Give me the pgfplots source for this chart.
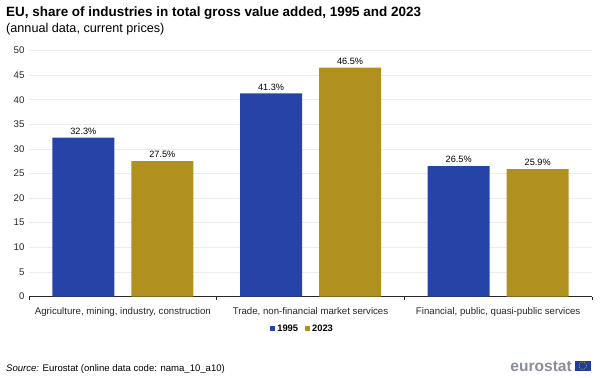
\documentclass[border=0pt]{standalone}
\usepackage{pgfplots}
\pgfplotsset{compat=1.18}
\usepackage{fontspec}
\setmainfont{Liberation Sans}
\definecolor{esblue}{HTML}{2644A7}
\definecolor{esgold}{HTML}{B09120}
\definecolor{esgrid}{HTML}{ECECEC}
\definecolor{esgrey}{HTML}{8A8E99}
\begin{document}
\begin{tikzpicture}[x=1bp,y=1bp]
\path[use as bounding box] (0,0) rectangle (600,377);
\begin{axis}[
  at={(29bp,80.5bp)},anchor=south west,
  scale only axis,width=563bp,height=246bp,
  xmin=0,xmax=3,ymin=0,ymax=50,
  ybar,
  axis x line*=bottom,axis y line*=left,
  y axis line style={draw=none},
  x axis line style={draw=black!85,line width=0.8bp},
  xtick={0.5,1.5,2.5},
  xticklabels={{Agriculture, mining, industry, construction},{Trade, non-financial market services},{Financial, public, quasi-public services}},
  minor xtick={0,1,2,3},
  major x tick style={draw=none},
  minor x tick style={draw=black!85,line width=0.6bp},
  minor tick length=3.5bp,
  ytick={0,5,...,50},
  major y tick style={draw=none},
  ymajorgrids,grid style={esgrid,line width=0.6bp},
  tick label style={font=\fontsize{9.7}{11}\selectfont,text=black!85},
  /pgf/number format/assume math mode=true,
  x tick label style={yshift=-3bp},
  y tick label style={xshift=-1bp},
  nodes near coords={\pgfmathprintnumber[fixed,fixed zerofill,precision=1]{\pgfplotspointmeta}\%},
  every node near coord/.append style={font=\fontsize{9.2}{11}\selectfont,text=black,inner sep=3bp,/pgf/number format/assume math mode=true},
  bar width=62bp,
  legend style={draw=none,fill=none,at={(0.486,-0.13)},anchor=center,legend columns=2,font=\bfseries\fontsize{9.4}{11}\selectfont,inner sep=0pt,/tikz/every even column/.append style={column sep=5bp}},
  legend image code/.code={\fill[#1,draw=none] (0bp,-2.5bp) rectangle (5bp,2.5bp);},
  clip=false,
]
\addplot[fill=esblue,draw=none,bar shift=-39.5bp] coordinates {(0.5,32.3) (1.5,41.3) (2.5,26.5)};
\addplot[fill=esgold,draw=none,bar shift=39.5bp] coordinates {(0.5,27.5) (1.5,46.5) (2.5,25.9)};
\legend{1995,2023}
\end{axis}
\node[anchor=base west,inner sep=0pt,font=\bfseries\fontsize{13.5}{15}\selectfont] at (6,360.5) {EU, share of industries in total gross value added, 1995 and 2023};
\node[anchor=base west,inner sep=0pt,font=\fontsize{12.7}{14}\selectfont] at (6,345) {(annual data, current prices)};
\node[anchor=base west,inner sep=0pt,font=\fontsize{9.6}{11}\selectfont] at (6,5.5) {\textit{Source:} Eurostat (online data code: nama\_10\_a10)};
\node[anchor=base east,inner sep=0pt,font=\bfseries\fontsize{15.6}{17}\selectfont,text=esgrey] at (572,6) {eurostat};
\fill[esblue!90!black] (574.5,6) rectangle (591,16.5);
\foreach \a in {0,30,...,330}{\fill[yellow!85!orange] ({582.75+3.6*cos(\a)},{11.25+3.6*sin(\a)}) circle (0.4);}
\end{tikzpicture}
\end{document}
